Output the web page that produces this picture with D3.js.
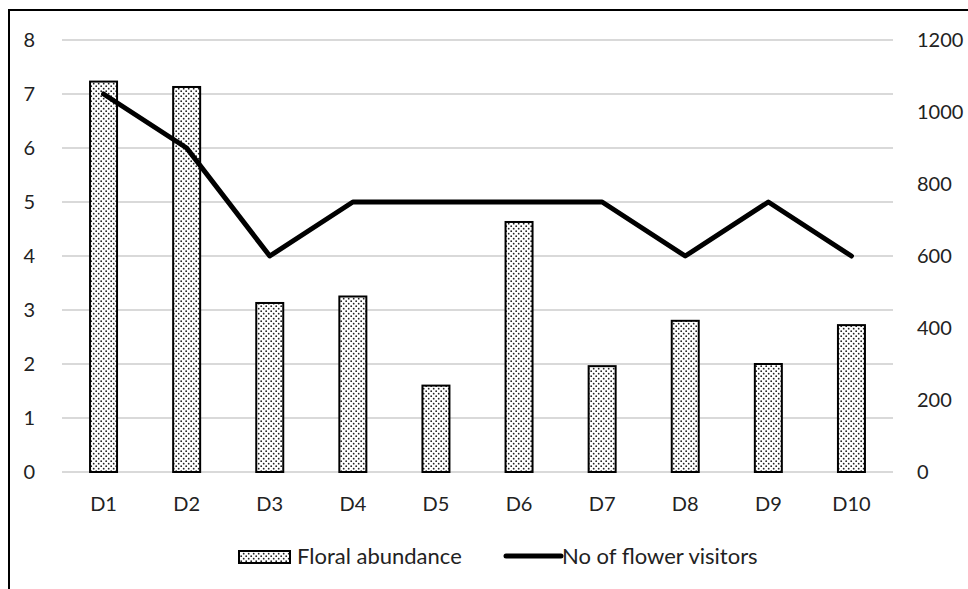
<!DOCTYPE html>
<html>
<head>
<meta charset="utf-8">
<script src="https://cdn.jsdelivr.net/npm/d3@7"></script>
<style>
  body { margin: 0; background: #fff; }
  text { font-family: Lato, "Open Sans", sans-serif; fill: #222; }
</style>
</head>
<body>
<script>
// data
var sites = ["D1", "D2", "D3", "D4", "D5", "D6", "D7", "D8", "D9", "D10"];
var floral = [7.23, 7.13, 3.13, 3.25, 1.6, 4.63, 1.96, 2.8, 2.0, 2.72];
var visitors = [1050, 900, 600, 750, 750, 750, 750, 600, 750, 600];
var leftTicks = [0, 1, 2, 3, 4, 5, 6, 7, 8];
var rightTicks = [0, 200, 400, 600, 800, 1000, 1200];

var width = 968, height = 589;
var svg = d3.select("body").append("svg")
    .attr("width", width)
    .attr("height", height);

// dotted fill for the bars
var defs = svg.append("defs");
var pat = defs.append("pattern")
    .attr("id", "dots")
    .attr("patternUnits", "userSpaceOnUse")
    .attr("width", 5).attr("height", 5);
pat.append("rect").attr("width", 5).attr("height", 5).attr("fill", "#fff");
pat.append("circle").attr("cx", 1.2).attr("cy", 1.2).attr("r", 0.9).attr("fill", "#222");
pat.append("circle").attr("cx", 3.7).attr("cy", 3.7).attr("r", 0.9).attr("fill", "#222");

// outer frame
svg.append("rect")
    .attr("x", 9).attr("y", 10)
    .attr("width", 980).attr("height", 600)
    .attr("fill", "none")
    .attr("stroke", "#000")
    .attr("stroke-width", 2);

// plot edges (not "top": that name is taken by window.top)
var pLeft = 62, pRight = 893, pTop = 40, pBottom = 472;

var x = d3.scaleBand().domain(sites).range([pLeft, pRight]).paddingInner(0).paddingOuter(0);
var yL = d3.scaleLinear().domain([0, 8]).range([pBottom, pTop]);
var yR = d3.scaleLinear().domain([0, 1200]).range([pBottom, pTop]);

// gridlines
svg.append("g").selectAll("line")
    .data(leftTicks)
    .enter().append("line")
    .attr("x1", pLeft).attr("x2", pRight)
    .attr("y1", function(d) { return yL(d); })
    .attr("y2", function(d) { return yL(d); })
    .attr("stroke", "#d9d9d9")
    .attr("stroke-width", 2);

// left axis
var axL = svg.append("g")
    .attr("transform", "translate(" + pLeft + ",0)")
    .call(d3.axisLeft(yL).tickValues(leftTicks).tickSize(0).tickPadding(27));
axL.select(".domain").remove();
axL.selectAll("text").style("font-size", "20px").attr("fill", "#222");

// right axis
var axR = svg.append("g")
    .attr("transform", "translate(" + pRight + ",0)")
    .call(d3.axisRight(yR).tickValues(rightTicks).tickFormat(d3.format("d"))
        .tickSize(0).tickPadding(24));
axR.select(".domain").remove();
axR.selectAll("text").style("font-size", "20px").attr("fill", "#222");

// bottom axis
var axB = svg.append("g")
    .attr("transform", "translate(0," + pBottom + ")")
    .call(d3.axisBottom(x).tickSize(0).tickPadding(25));
axB.select(".domain").remove();
axB.selectAll("text").style("font-size", "20px").attr("fill", "#222");

// bars
var barW = 27;
svg.append("g").selectAll("rect")
    .data(floral)
    .enter().append("rect")
    .attr("x", function(d, i) { return x(sites[i]) + x.bandwidth() / 2 - barW / 2; })
    .attr("y", function(d) { return yL(d); })
    .attr("width", barW)
    .attr("height", function(d) { return pBottom - yL(d); })
    .attr("fill", "url(#dots)")
    .attr("stroke", "#000")
    .attr("stroke-width", 2);

// visitors line
var line = d3.line()
    .x(function(d, i) { return x(sites[i]) + x.bandwidth() / 2; })
    .y(function(d) { return yR(d); });

svg.append("path")
    .datum(visitors)
    .attr("d", line)
    .attr("fill", "none")
    .attr("stroke", "#000")
    .attr("stroke-width", 5)
    .attr("stroke-linecap", "round")
    .attr("stroke-linejoin", "round");

// legend
var lg = svg.append("g");
lg.append("rect")
    .attr("x", 239).attr("y", 551)
    .attr("width", 51).attr("height", 12)
    .attr("fill", "url(#dots)")
    .attr("stroke", "#000")
    .attr("stroke-width", 2);
lg.append("text")
    .attr("x", 297).attr("y", 564)
    .style("font-size", "22px")
    .text("Floral abundance");
lg.append("line")
    .attr("x1", 506).attr("x2", 561)
    .attr("y1", 556).attr("y2", 556)
    .attr("stroke", "#000")
    .attr("stroke-width", 5)
    .attr("stroke-linecap", "round");
lg.append("text")
    .attr("x", 562).attr("y", 564)
    .style("font-size", "22px")
    .text("No of flower visitors");
</script>
</body>
</html>
